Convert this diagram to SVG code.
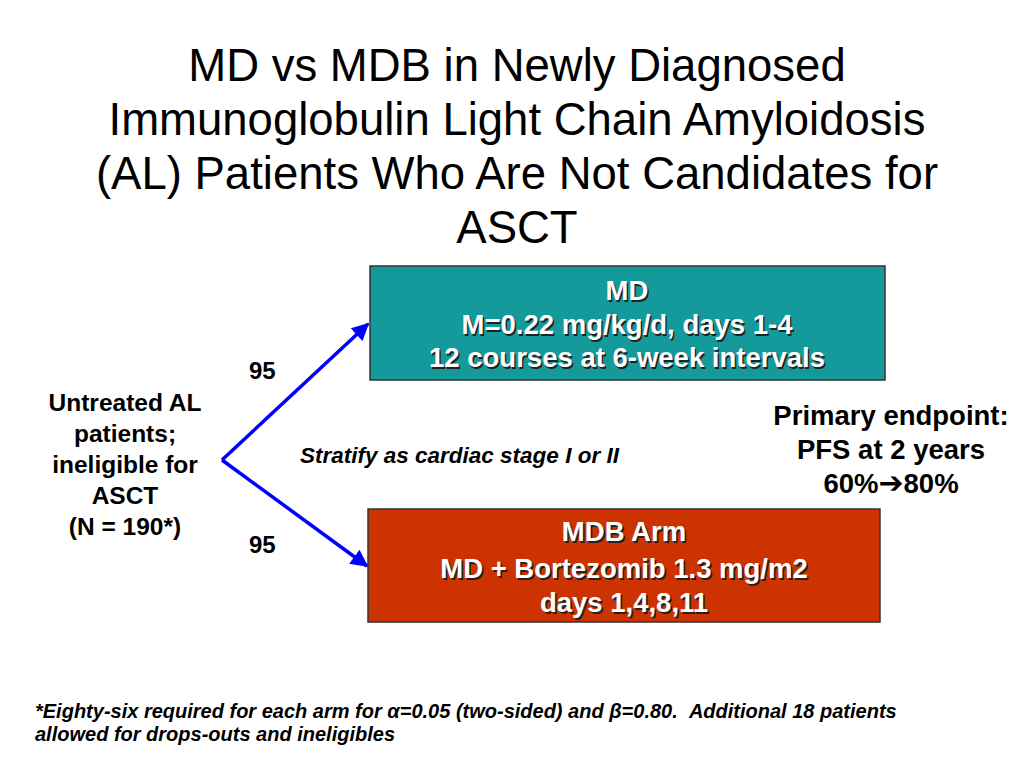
<svg xmlns="http://www.w3.org/2000/svg" width="1024" height="768" viewBox="0 0 1024 768">
<defs>
<style>
.t{font-family:"Liberation Sans",Arial,sans-serif;fill:#000}
.title{font-size:45.5px;text-anchor:middle}
.b{font-weight:bold}
.bx{font-family:"Liberation Sans",Arial,sans-serif;font-weight:bold;font-size:27.5px;fill:#fff;text-anchor:middle}
.sh{font-family:"Liberation Sans",Arial,sans-serif;font-weight:bold;font-size:27.5px;fill:#222;text-anchor:middle}
.conn{stroke:#0000ff;stroke-width:3.5;fill:none}
.arr{font-family:"DejaVu Sans",sans-serif;font-weight:bold}
</style>
<marker id="ah" viewBox="0 0 10 10" refX="9" refY="5" markerWidth="5" markerHeight="5" orient="auto" markerUnits="strokeWidth">
<path d="M0,0 L10,5 L0,10 z" fill="#0000ff"/>
</marker>
</defs>
<rect width="1024" height="768" fill="#fff"/>
<g id="title" class="t title">
<text x="517" y="81">MD vs MDB in Newly Diagnosed</text>
<text x="517" y="135">Immunoglobulin Light Chain Amyloidosis</text>
<text x="517" y="189">(AL) Patients Who Are Not Candidates for</text>
<text x="517" y="243">ASCT</text>
</g>
<g id="connectors">
<path class="conn" d="M222,460 L368,324" marker-end="url(#ah)"/>
<path class="conn" d="M222,460 L367,566" marker-end="url(#ah)"/>
</g>
<g id="md">
<rect x="370" y="266" width="515" height="114" fill="#149a9a" stroke="#333" stroke-width="1.5"/>
<g transform="translate(1.5,1.5)">
<text class="sh" x="627" y="300">MD</text>
<text class="sh" x="627" y="334">M=0.22 mg/kg/d, days 1-4</text>
<text class="sh" x="627" y="367">12 courses at 6-week intervals</text>
</g>
<text class="bx" x="627" y="300">MD</text>
<text class="bx" x="627" y="334">M=0.22 mg/kg/d, days 1-4</text>
<text class="bx" x="627" y="367">12 courses at 6-week intervals</text>
</g>
<g id="mdb">
<rect x="368" y="509" width="512" height="113" fill="#cc3300" stroke="#333" stroke-width="1.5"/>
<g transform="translate(1.5,1.5)">
<text class="sh" x="624" y="541">MDB Arm</text>
<text class="sh" x="624" y="578">MD + Bortezomib 1.3 mg/m2</text>
<text class="sh" x="624" y="612">days 1,4,8,11</text>
</g>
<text class="bx" x="624" y="541">MDB Arm</text>
<text class="bx" x="624" y="578">MD + Bortezomib 1.3 mg/m2</text>
<text class="bx" x="624" y="612">days 1,4,8,11</text>
</g>
<g id="population" class="t b" font-size="24.5" text-anchor="middle">
<text x="125" y="411">Untreated AL</text>
<text x="125" y="442">patients;</text>
<text x="125" y="473">ineligible for</text>
<text x="125" y="504">ASCT</text>
<text x="125" y="535">(N = 190*)</text>
</g>
<g id="n-labels" class="t b" font-size="24">
<text x="249" y="379">95</text>
<text x="249" y="553">95</text>
</g>
<text id="stratify" class="t b" font-size="22.5" font-style="italic" x="300" y="463">Stratify as cardiac stage I or II</text>
<g id="endpoint" class="t b" font-size="27.5" text-anchor="middle">
<text x="891" y="425">Primary endpoint:</text>
<text x="891" y="459">PFS at 2 years</text>
<text x="891" y="493">60%<tspan class="arr" font-size="30">➔</tspan>80%</text>
</g>
<g id="footnote" class="t b" font-size="20" font-style="italic">
<text x="35" y="718" xml:space="preserve">*Eighty-six required for each arm for α=0.05 (two-sided) and β=0.80.  Additional 18 patients</text>
<text x="35" y="741">allowed for drops-outs and ineligibles</text>
</g>
</svg>
